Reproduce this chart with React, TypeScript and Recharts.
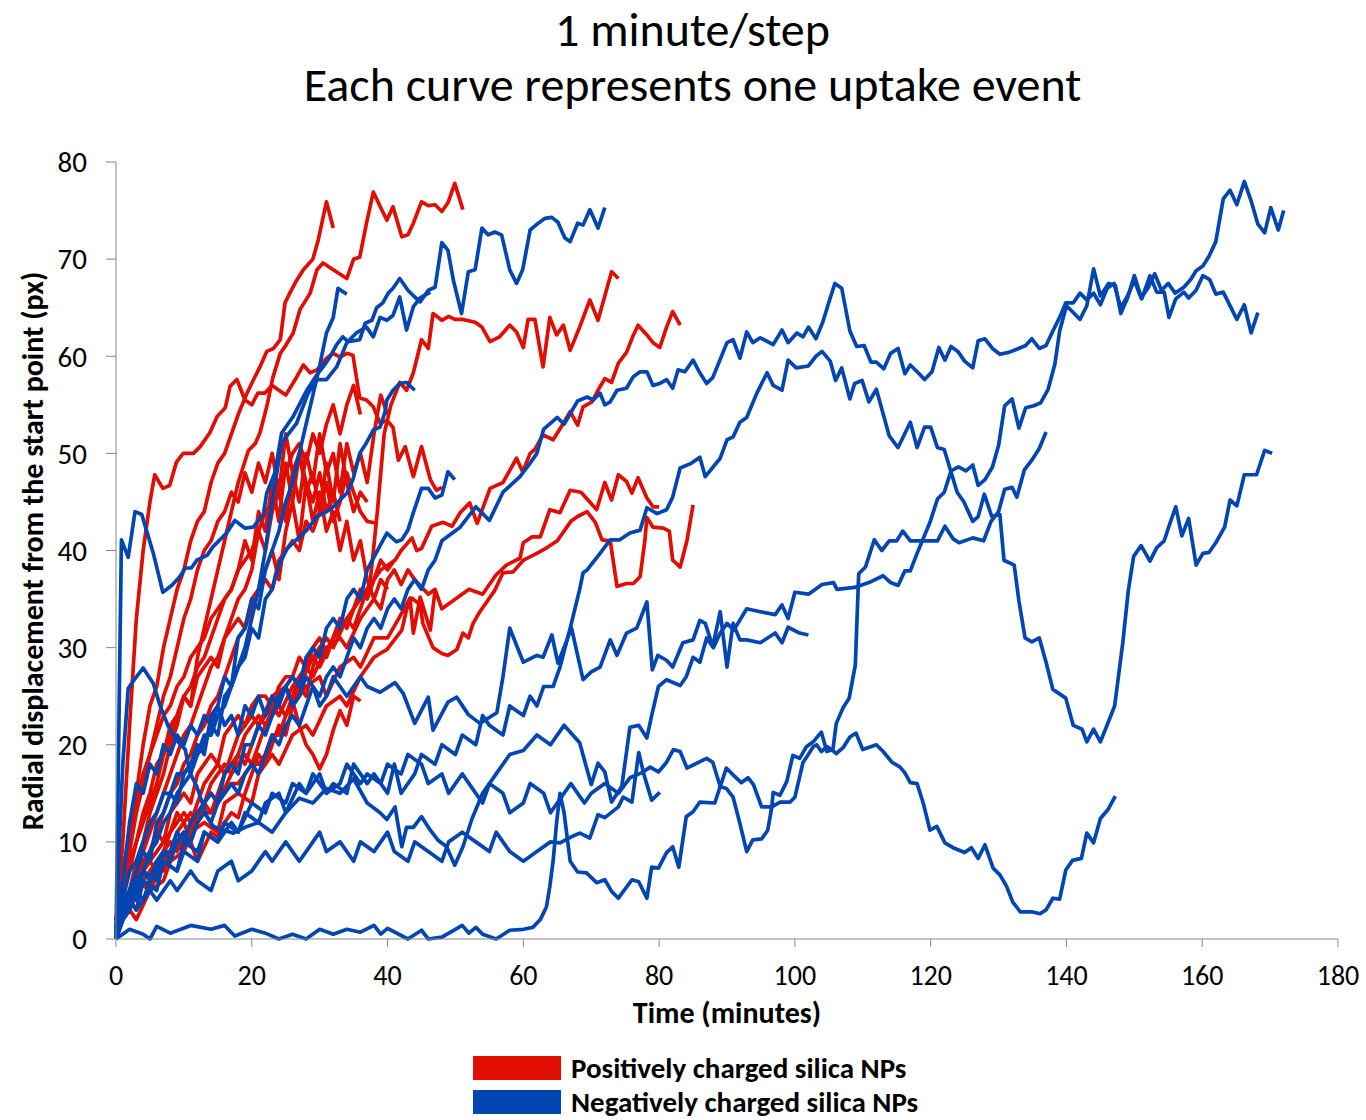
import React from 'react';
import { LineChart, Line, XAxis, YAxis } from 'recharts';

// ---------- tick labels ----------
const X_TICKS = [0, 20, 40, 60, 80, 100, 120, 140, 160, 180];
const Y_TICKS = [0, 10, 20, 30, 40, 50, 60, 70, 80];

const RED = '#E00E00';
const BLUE = '#0046B2';

// ---------- positively charged (red) curves: [time (min), displacement (px)] ----------
const R1 = [[0,2],[1,5],[2,11],[3,15],[4,20],[5,24],[6,26],[7,30],[8,33],[9,36],[10,38],[11,41],[12,43],[13,44],[14,47],[15,49],[16,50],[17,52],[18,54],[19.3,56.2],[20.2,57.5],[21.2,58.9],[22.2,60.5],[23.2,60.8],[24.2,61.7],[24.9,65.5],[25.6,66.5],[26.6,67.8],[27.6,68.9],[29,70],[29.8,72],[31,75.9],[32,73.2]];
const R2 = [[0,1],[1,4],[2,5],[3,8],[4,10],[5,13],[6,15],[7,17],[8,20],[9,22],[10,25],[11,24],[12,29],[13,32],[14,35],[15,38],[16,41],[17,44],[18,47],[19.5,50.3],[20.5,51],[21.2,52.1],[22.2,54.8],[23.1,57.8],[24.2,60.3],[24.9,61],[26.1,62.4],[27.1,64.8],[28.6,66.5],[29.6,68.9],[30.5,69.6],[32,68.9],[34,68],[35,70],[35.9,70.2],[36.9,73.7],[37.9,76.9],[39.2,75],[39.9,74],[40.8,75.4],[42.1,72.3],[43,72.5],[43.8,73.7],[45,75.9],[46,75.5],[47,75.6],[48,74.9],[48.9,75.8],[49.9,77.8],[51.1,75.1]];
const R3 = [[0,1],[2,3],[3,5],[5,6],[6,8],[8,9],[9,11],[11,13],[12,12],[14,16],[16,18],[17,17],[19,21],[21,23],[22,22],[24,25],[26,27],[27,26],[29,29],[31,31],[32,30],[34,33],[36,35],[37.4,36.5],[38.5,44],[39.5,52],[40.5,55],[41.8,57.3],[42.8,56.5],[43.8,58.3],[45,61.7],[46,60.8],[46.7,64.4],[48,63.7],[49,64.1],[49.9,63.8],[51,63.8],[52.9,63.5],[53.9,63],[55.1,61.5],[56.5,62],[58,63.2],[59,62.5],[60,60.9],[60.7,63.8],[61.7,63.8],[62.9,58.9],[63.9,64],[64.9,62.2],[65.9,63.2],[66.9,60.6],[68.3,63],[69.8,65.8],[71,63.7],[73,68.7],[74,68]];
const R4 = [[0,1],[2,3],[4,6],[5,5],[7,8],[9,10],[10,9],[12,13],[14,15],[15,14],[17,17],[19,19],[20,18],[22,22],[24,24],[25,23],[27,27],[29,29],[30,28],[32,31],[34,33],[35,32],[37,36],[38,37],[39,38],[41.1,39],[42,40],[43.6,41.3],[44.3,40],[45,40.2],[46.5,42.5],[48.2,42.9],[49.5,42.5],[50.7,43.9],[52.1,44.9],[53.2,42.8],[55.1,46.4],[57,47],[59,49.5],[59.9,48.1],[61,50],[61.7,50.4],[62.9,51.9],[64.4,51.4],[65.9,53.1],[66.9,54.3],[68,52.9],[68.8,54.8],[70.1,55.3],[71,56.5],[72,57.7],[73,57.3],[74,59.3],[75.2,60.4],[76.1,62],[76.9,63.2],[78.2,62.2],[79.1,61.4],[80.1,60.9],[81.1,63],[82,64.6],[83.1,63.2]];
const R5 = [[0,1],[2,3],[3,2],[5,5],[7,6],[8,8],[10,9],[11,11],[13,12],[15,11],[16,14],[18,15],[20,14],[21,17],[23,19],[24,18],[26,21],[28,22],[29,21],[31,24],[33,25],[34,24],[36,27],[38,29],[38.9,29.4],[39.9,29.8],[42.1,31.8],[42.8,33.9],[43.6,35.1],[44.8,34.4],[45.2,32.5],[46.7,30],[48,29.4],[48.9,29.2],[50.2,29.8],[51.1,31.5],[51.9,31],[52.6,32.5],[53.6,33.7],[55.8,35.9],[57,37.7],[58.5,37.8],[60,39],[62,39.7],[63.5,40.3],[65,41],[66,42],[67,43],[68,43.5],[69.4,44],[70.6,42.9],[71.6,41.1],[72.8,41],[73.8,36.3],[75.2,36.6],[76.2,36.6],[77.2,37.3],[77.9,41],[78.2,43.4],[79.1,42.4],[80.6,42.3],[81.5,42],[82,39],[83.1,38.3],[84.1,41],[85,44.7]];
const R6 = [[0,2],[2,4],[3,6],[5,5],[6,8],[8,10],[9,9],[11,12],[13,14],[14,13],[16,17],[18,19],[19,18],[21,22],[23,24],[24,23],[26,26],[28,28],[29,27],[31,30],[33,31],[34,30],[36,33],[38,35],[39,34],[40,37],[41,38],[42,36.5],[43,38],[44,37],[46,35.5],[47,36],[48,34],[50,35],[52,36],[54,35.5],[56,37.5],[57.5,38.5],[59.5,39.2],[60,40.8],[61.3,41.4],[62.5,41.4],[63.9,44.2],[65.4,43.9],[66.9,46.2],[68.5,46],[70.8,44.2],[72,47],[73,45.2],[74,47.8],[75.2,47.1],[76,45.9],[76.9,47.5],[78.2,45.4],[79.1,44.5],[80,44.5]];
const R7 = [[0,1],[1,10],[2,22],[3,33],[4,40],[5,45],[5.7,47.8],[6.9,46.4],[7.9,46.7],[8.9,49.1],[9.9,50],[11.4,50],[12.4,50.7],[13.8,52.1],[14.9,53.8],[16.1,54.7],[16.8,56.9],[17.8,57.6],[19,55.5],[20,55],[20.9,56.2],[21.9,56.2],[23,57],[24,56.5],[25,56],[26.4,57.6],[27.6,59.1],[28.6,58.3],[29.6,58.6],[31,59.8],[32,60.3],[33,59.9],[34,60.3],[34.9,60.1],[35.9,55.7],[36.9,55.5],[37.9,54.8],[38.9,53.1],[39.9,53.4],[40.8,52.7],[41.6,49.3],[42.6,50.7],[43.8,47.6],[45,50.7],[46.3,47.3],[47.2,46.2],[48,46.5]];
const R8 = [[0,1],[2,4],[3,6],[5,8],[6,7],[8,11],[10,13],[11,12],[13,16],[15,18],[16,17],[18,21],[20,23],[21,22],[23,25],[25,26],[26,24],[28,26],[30,27],[31,25],[33,28],[35,29],[36,28],[38,31],[40,31],[41.8,33.2],[43.3,35.1],[43.8,31.5],[44.8,35.2],[46.3,31.8],[47,35.9]];
const R9 = [[0,2],[1,5],[2,8],[3,10],[4,13],[5,15],[6,18],[7,19],[8,22],[9,23],[10,25],[11,24],[12,27],[13,28],[14,29],[15,28],[16,31],[17,32],[18,33],[19,32],[20,35],[21,36],[22,37],[23,36],[24,39],[25,40],[26,41],[27,40],[28,43],[29,42],[30,44],[31,47],[32,43],[33,45],[34,48],[35,46],[36,44],[37,43],[38.4,42.8]];
const R10 = [[0,1],[1,3],[2,5],[3,6],[4,8],[5,9],[6,11],[7,10],[8,13],[9,14],[10,15],[11,14],[12,17],[13,18],[14,19],[15,18],[16,21],[17,22],[18,23],[19,22],[20,24],[21,25],[22,25],[23,24],[24,26],[25,27],[26,27],[27,29],[28,28],[29,30],[30,31],[31,29.5],[32,31],[32.8,32.3]];
const R11 = [[0,1],[1,2],[2,4],[3,5],[4,6],[5,7],[6,8],[7,7],[8,9],[9,10],[10,11],[11,10],[12,12],[13,13],[14,13],[15,14],[16,15],[17,16],[18,16],[19,17],[20,18],[21,18],[22,19],[23,21],[24,21],[25,23],[26,24.5],[27,22],[28,20],[29,19],[30,17.5],[31,19],[32,21.5],[33,23.5],[34,22],[35,25],[36,24.5]];
const R12 = [[0,1],[2,5],[3,7],[4,9],[5,11],[6,13],[7,15],[8,17],[9,19],[10,21],[11,22],[12,24],[13,26],[14,28],[15,29],[16,31],[17,33],[18,35],[19,36],[20,38],[21,42],[22,40],[23,44],[24,46],[25,43],[26,48],[27,45],[28,50],[29,47],[30,52],[31,48],[32,50],[33,46],[34,51],[35,48],[36,50],[37,47],[38,52],[39,56],[40,54]];
const R13 = [[0,2],[1,5],[2,7],[3,10],[4,12],[5,14],[6,16],[7,19],[8,21],[9,23],[10,25],[11,26],[12,28],[13,29],[14,31],[15,33],[16,35],[17,36],[18,38],[19,41],[20,39],[21,44],[22,42],[23,47],[24,43],[25,49],[26,45],[27,50],[28,46],[29,48],[30,44],[31,49],[32,45],[33,51],[34,47],[35,44],[36,46],[37,45]];
const R14 = [[0,1],[1,3],[2,4],[3,6],[4,8],[5,9],[6,11],[7,13],[8,15],[9,16],[10,18],[11,19],[12,21],[13,22],[14,24],[15,25],[16,27],[17,29],[18,31],[19,32],[20,34],[21,36],[22,38],[23,40],[24,37],[25,42],[26,45],[27,41],[28,47],[29,43],[30,46],[31,42],[32,44],[33,40],[34,43],[35,39],[36,41],[37,37],[38,35],[39,37],[40,36]];
const R15 = [[0,1],[1,5],[2,9],[3,13],[4,16],[5,19],[6,22],[7,25],[8,27],[9,30],[10,33],[11,35],[12,38],[13,40],[14,41],[15,43],[16,44],[17,46],[18,45],[19,48],[20,46],[21,49],[22,47],[23,50],[24,46],[25,52],[26,48],[27,50],[28,47],[29,45],[30,48],[31,44],[32,46],[33,43]];
const R16 = [[0,1],[1,2],[2,4],[3,5],[4,7],[5,8],[6,9],[7,10],[8,11],[9,13],[10,12],[11,10],[12,8],[13,9.5],[14,11],[15,10.5],[16,12],[17,13],[18,12.5],[19,15],[20,17],[21,19],[22,18],[23,20],[24,22],[25,21],[26,24],[27,26],[28,25],[29,28],[30,30],[31,29],[32,31],[33,33],[34,32],[35,34],[36,36],[37,35],[38,37],[39,39],[40,38],[41,39]];
const R17 = [[0,2],[1,7],[2,11],[3,14],[4,17],[5,19],[6,21],[7,23],[8,24],[9,26],[10,27],[11,29],[12,30],[13,31],[14,33],[15,34],[16,35],[17,36],[18,38],[19,39],[20,40],[21,42],[22,44],[23,45],[24,47],[25,48],[26,50],[27,51],[28,49],[29,52],[30,50],[31,53],[32,55],[33,52],[34,55],[35,57],[36,54]];

// ---------- negatively charged (blue) curves ----------
const B1 = [[0,0],[1,2],[2,4],[3,5],[4,7],[5,6],[6,8],[7,9],[8,8],[9,10],[10,11],[11,10],[12,12],[13,13],[14,12],[15,14],[16,15],[17,16],[18,15],[19,17],[20,18],[21,17],[22,19],[23,21],[24,20],[25,22],[26,23],[27,22],[28,24],[29,26],[30,25],[31,27],[32,28],[33,27],[34,29],[35,31],[36,30],[37,32],[38,33],[39,32],[40,34],[41,35],[42,34],[43,36],[44,37],[45,36],[46,38],[47,39],[48,41],[50.7,42.4],[53,44.5],[55,43.1],[57,46],[59.5,47.6],[61,49],[62,50],[63,52.5],[65,53.7],[66,53],[68,55.4],[69.4,55.8],[70.3,55.5],[71.3,56.2],[72,55],[72.8,55.3],[73.8,56.5],[75.2,56.7],[76.2,57.9],[77.2,58.4],[78.2,58.4],[79.1,57],[80.1,57.2],[81.1,57.6],[82,56.7],[82.8,58.6],[83.8,58.4],[85,59.6],[86,58.3],[87,57.2],[87.9,57.8],[90,61.4],[90.9,61.7],[91.9,59.8],[92.9,62.5],[93.8,61.4],[94.9,61.9],[96.8,61.2],[98.1,62.7],[99,61.4],[100.3,62.4],[101.2,62],[102,63],[103.1,61.8],[104.1,63.5],[105.2,66],[105.9,67.5],[106.9,67],[108.1,62.6],[109.1,61],[110.2,61.1],[111.2,59.4],[112,59.4],[113.1,58.7],[114.1,60.3],[115.2,60.8],[116.2,58.2],[117,59.1],[118.3,58.2],[119.1,57.6],[120.2,58.4],[121.2,60.9],[122.1,59.6],[123,61],[124,60.5],[125,59.5],[126.2,58.8],[127,61.6],[128,61.8],[129.1,60.8],[130.2,60.2],[131.5,60.4],[132.6,60.7],[134,61.1],[134.9,61.8],[136,60.8],[137,61.1],[138,62.6],[139,64],[139.9,65.5],[141,65.5],[142,66.5],[143,65.8],[144,66.5],[145,65.3],[146,67],[147,67.5],[148,65],[149,66.2],[150,67.8],[151,66],[152,67],[153,68.5],[154,66.8],[155,67.5],[156,66.5],[157.3,67.1],[158.3,67.9],[159.1,68.8],[160.1,69.3],[161,70.3],[162,71.8],[163.1,76.2],[164.1,77.1],[165.1,75.6],[166.2,78],[167.2,76],[168.2,73.6],[169.2,72.7],[170.1,75.3],[171.2,73],[172,75]];
const B2 = [[0,0],[1,3],[2,5],[3,4],[4,7],[6,6],[7,8],[9,7],[10,10],[12,9],[13,11],[15,10],[17,12],[18,11],[20,14],[22,13],[23,15],[25,14],[26,16],[28,15],[29,17],[31,15],[32,16],[34,15],[35,18],[37,16],[38,17],[40,15],[41,18],[42,15],[44,17],[45,19],[47,18],[48,20],[50,19],[51,21],[53,20],[54,23],[55,22],[57,21],[58,24],[60,23],[61,25],[62,24],[63,26],[64.4,26],[65.4,28],[66.9,32],[68.3,36],[68.8,37.7],[69.4,38],[71.3,39.7],[72.8,41.1],[74.2,41.1],[75.7,41.8],[77.2,42.1],[78.2,44.4],[79.7,43.8],[81.1,44.2],[82,45.5],[83.1,48.5],[84.8,49],[86,49.6],[86.8,47.6],[89,49.5],[90,51.4],[90.9,51.7],[91.9,53.2],[92.9,53.7],[94.4,56.2],[95.9,58.3],[96.8,57],[98.1,56.5],[99,59.6],[100.2,58.8],[102,59],[103.1,60],[104,60.5],[105.2,59.5],[106,57.5],[106.9,58.8],[108.1,55.6],[108.8,57.2],[109.9,57.5],[110.9,55.3],[112,56.6],[113.9,51.8],[115.2,50.6],[117,53.2],[118,50.6],[119.1,52.7],[120,52.7],[121,50.6],[122,50.4],[123.9,46],[124.9,45],[126.2,43],[127,43.5],[127.9,45.8],[129,43.5],[130.2,43.7],[130.8,39],[132.3,38.5],[133,34.8],[133.9,31],[134.9,30.6],[136,31],[137,28.5],[138,25.7],[139.9,24.8],[141,22],[142.3,21.6],[143,20.3],[144,21.6],[145,20.3],[146.2,22.4],[147.1,24],[148.3,30.5],[149.1,35.8],[149.9,39.4],[151,40.5],[152.3,38.9],[153.3,40.3],[154.4,41],[155.1,42.5],[156.1,44.5],[157,41.5],[158,43.3],[159.1,38.5],[160.1,39.7],[161,39.8],[162,40.8],[163.3,42.4],[164.1,45.2],[165.1,44.6],[166.2,47.8],[168,47.8],[169.2,50.3],[170.3,50]];
const B3 = [[0,0],[1,2],[2,4],[3,3],[4,6],[6,5],[7,8],[9,7],[10,9],[12,8],[13,11],[15,10],[16,12],[18,11],[19,13],[21,12],[22,14],[24,15],[25,13],[27,16],[28,15],[30,17],[31,15],[33,16],[34,18],[36,16],[37,17],[39,16],[40,18],[42,17],[43,19],[45,18],[46,16],[48,17],[49,15],[51,17],[52,16],[54,14],[55,16],[57,15],[58,13],[60,14],[61,16],[63,15],[64,13],[66,15],[67,16],[69,14],[70,15],[72,16],[74,15],[75.7,16.6],[77.4,17.1],[78.7,17.7],[79.9,17.2],[81.1,18.2],[82.1,19.5],[83.1,19.3],[84.1,17.6],[87,18.6],[87.9,18.2],[89,15.7],[89.9,15.5],[90.9,14.6],[91.9,11.9],[92.9,9],[93.8,10.2],[95.1,10.3],[96,11.2],[96.6,13.6],[96.8,15.1],[97.8,14.8],[98.8,16.2],[99.7,18.9],[100.7,18.6],[101.7,19.8],[102.7,20.3],[103.9,21.3],[104.7,19.3],[105.6,19.5],[106.1,22.2],[107.1,23.8],[108,24.8],[108.5,26.7],[108.9,28.2],[109.4,37.6],[110.4,38.3],[110.9,39.4],[111.7,41.1],[112.8,40],[113.9,41],[115,41],[115.9,42],[117,41],[118.9,41],[121,41],[122.1,42.5],[123.3,41.2],[124.2,40.8],[126.2,41.3],[127.8,41],[128.9,43],[130,44],[130.9,46.3],[132,46.5],[132.7,45.5],[133.8,48.3],[134.9,49.3],[136,50.5],[137,52.2]];
const B4 = [[0,0],[0.5,10],[1,18],[1.8,25.8],[3,27],[4,27.9],[5.5,26.3],[6.5,24],[7.7,21.9],[8.9,20.5],[10.2,19.5],[10.9,17.1],[11.9,15.7],[13.4,12.6],[14.3,11.6],[15.8,11.2],[17.3,10.9],[19,11.5],[21,12],[23,11],[25,13],[27,14.5],[29,14],[31,15.5],[33,15],[35,16.5],[37,14],[38.9,13],[39.9,12.3],[41.1,13.6],[42.1,9.5],[42.8,11.5],[43.8,11.5],[45,12.6],[46.3,11.2],[47.4,10.2],[48.7,9.5],[49.9,7.6],[51.1,9.5],[52.4,12.3],[54,15],[56,17],[58,19],[60,19.4],[62,21],[64,20],[66,22],[68.3,20.2],[70,15.9],[71,18.1],[72,17.2],[73,14.1],[74.5,15.7],[75.7,21.8],[77,22],[78.2,20.7],[78.9,23],[79.9,26],[81.1,26.7],[83.1,26.1],[84,27],[85,29],[86,28.5],[87,31],[88,30],[89,31.5],[90,32.5],[91,31.8],[92.9,34],[94.9,33.7],[97.1,33.4],[98.1,34.4],[99,33],[100,35.7],[102,35.5],[104,36.5],[105.7,36.7],[106.2,36],[108.8,36.2],[110.9,36.7],[113,37.4],[114.1,36.7],[115.2,36.4],[116.2,37.9],[117,37.9],[118,39.7],[119.9,42.9],[121,45.3],[122,46],[123,48.2],[124.1,48.6],[125.2,48.2],[126.2,48.8],[127,46.7],[128,47.3],[129.1,48.6],[130,50.8],[130.9,54.9],[132,55.6],[133,52.6],[134,54.7],[135.2,54.9],[136.2,55.2],[137.3,56.6],[138.3,59.2],[139,62.6],[140,65.2],[141,64.5],[142,63.8],[143,65.2],[144,69],[145,66.2],[146.2,67.5],[147.2,67.3],[148,64.4],[149,66],[150,68.3],[151.1,65.9],[152.3,68.3],[153.3,66.6],[154.4,66.6],[155.1,64],[156.1,65.9],[157.3,66.6],[158,66],[159.1,66.8],[160.1,68.3],[161.1,67.9],[162,66.4],[163.1,66.6],[165.1,63.8],[166.2,65.3],[167.2,62.4],[168.2,64.5]];
const B5 = [[0,0],[2,1],[4,0.5],[5,0],[6,1.3],[8,0.6],[11,1.4],[14,1],[16,1.4],[17.5,0.3],[20,1],[22,0.6],[24,0],[26,0.5],[28,0],[30,1],[32,0.5],[34,1],[36,0.7],[38,1.4],[39,0.5],[40,1.1],[43,0],[45,0.9],[46,0],[48,0.2],[50,1],[51,1.4],[52,0.6],[53,1.2],[54,0.5],[56,0],[58,0.9],[60,1],[61.4,1.2],[62.5,2],[63.4,3.3],[63.9,5.4],[64.4,8.1],[64.9,12],[65.4,15],[66,13],[66.9,8],[68,6.9],[69.3,6.8],[70.8,5.8],[72,6.1],[73,4.9],[74,4.2],[76,6.1],[77,5.9],[78.2,4.2],[78.9,7.4],[79.9,7.3],[81.1,8.9],[82,9.5],[82.9,7.4],[84,12.6],[85,13.1],[86,14.1],[88.2,14],[89,15.7],[89.9,17.6],[90.9,16.9],[92.1,16.1],[93.1,16.6],[93.9,15.9],[95.1,13.6],[96.6,13.6],[97.8,14.1],[99.3,14.1],[100,14.6],[100.7,16.7],[101.2,18.2],[101.7,18.7],[102.7,19.8],[103.2,20],[103.9,19.3],[104.7,19.8],[105.4,19.5],[106.1,19.1],[107.1,19.7],[108.1,20.8],[109,21.2],[110,19.5],[112,20],[113,19.3],[114.3,18.2],[115.5,17.7],[116.2,17.1],[117,16.1],[118,16],[118.9,14],[119.9,11.2],[120.9,11.6],[122.1,9.9],[123.3,9.4],[125,8.9],[126,9.4],[127,8.3],[128,9.7],[129.2,7.3],[130.2,6.6],[131.2,5.4],[132.1,3.8],[133.2,2.8],[134.9,2.8],[136.1,2.6],[137,3],[138,4.2],[139,4.1],[139.9,7.1],[140.9,8.1],[142.2,8.3],[143,10.9],[144,9.9],[145,12.4],[146.1,13.3],[147.2,14.7]];
const B6 = [[0,0],[1,2],[2,4],[3,3],[5,5],[6,4],[8,6],[9,5],[11,7],[12,6],[14,5],[15,7],[17,8],[18,6],[20,7],[22,9],[23,8],[25,10],[27,8],[28,9],[30,11],[31,9],[33,10],[35,8],[36,10],[38,9],[40,11],[41,9],[43,8],[44,10],[46,9],[48,8],[49,10],[51,11],[53,10],[55,9],[56,11],[58,9],[60,8],[62,9],[64,10],[65.4,9.9],[67,10.5],[68.3,10.9],[69.8,10.4],[71,12.8],[72,12.5],[74,13.6],[74.7,14.6],[76,14.1],[77,19.2],[77.7,17.1],[78.9,14.3],[80.1,15.1]];
const B7 = [[0,0],[1,6],[2,12],[3,16],[4,15],[5,18],[6,17],[7,20],[8,19],[9,21],[10,20],[11,22],[12,21],[13,23],[14,22],[15,24],[16,22],[17,23],[18,21],[19,24],[20,23],[21,25],[22,23],[23,25],[24,24],[25,26],[26,24],[27,25],[28,27],[29,26],[30,24],[31,25],[32,27],[33,26],[34,25],[35,26],[36,27],[37,26],[38.9,25.4],[41.1,26.4],[42.3,25.3],[44,22.2],[46,24.9],[46.7,21.5],[48.9,24.4],[50.2,24.9],[51.9,23.1],[53.6,22.2],[56.1,23.3],[57,27],[58,32],[60,28.5],[62,29.2],[62.9,29],[64.2,31.3],[65.1,28.4],[67.1,32],[68.8,26.7],[70,27.5],[71.3,28],[72.8,30.8],[73.8,29.2],[75.2,31.5],[76.7,32],[78.2,34.7],[79,27.7],[79.8,29.2],[81.1,28.7],[82,28],[83.5,30.5],[85,30.8],[86,32.8],[86.8,32.5],[87.9,30.1],[89,33.7],[90,28],[90.9,32.5],[91.9,30.8],[92.9,30.8],[94.9,30.5],[97.1,31.5],[98.1,30.5],[99,32.1],[100.7,31.5],[102,31.3]];
const B8 = [[0,0],[0.8,41.1],[1.8,39.3],[2.8,44],[3.8,43.7],[5.5,39.7],[6.9,35.7],[8.2,36.4],[9.4,37.3],[10.2,38.2],[11.1,38.2],[11.9,39],[13.4,39.5],[14.3,40.4],[16.3,41.8],[17.5,43.1],[19,42.3],[20.2,42.4],[21.7,43.7],[22.2,45.9],[23.4,48],[24.4,52.1],[26.1,53.8],[28.1,56.5],[29.6,58.1],[30.5,58.9],[31.5,59.9],[32.5,61.2],[33.4,62],[34.2,61.5],[35.9,61.7],[36.7,63.4],[37.7,63.7],[38.4,65],[39.3,65.5],[40.1,66.5],[40.8,67],[41.8,68],[43,66.8],[44,66.1],[44.8,65.6],[46,66.8],[47,67.1],[48,71.7],[48.9,70.9],[49.7,67.8],[50.9,64.4],[51.9,68.7],[52.9,68.9],[53.9,73.2],[54.8,72.5],[55.8,72.8],[56.8,72.5],[58,68.9],[59,67.5],[59.9,68.9],[61,73],[62.2,73.7],[63.2,74.2],[64.2,74.3],[65.1,73.8],[66.1,72.2],[66.9,71.8],[68,73.7],[68.8,73.5],[69.8,75.1],[71,73.2],[72,75.3]];
const B9 = [[0,0],[1,3],[2,5],[3,7],[4,9],[5,8],[6,12],[7,13],[8,15],[9,14],[10,17],[11,18],[12,20],[13,19],[14,23],[15,24],[16,27],[17,26],[18,31],[19,32],[20,35],[21,34],[22,38],[23,40],[24,42],[25,45],[26,47],[27,50],[28,53],[29,56],[30,59],[31,62.4],[32,64],[32.7,67],[33.3,66.7],[34,66.4]];
const B10 = [[0,0],[1,3],[2,4],[3,6],[4,7],[5,9],[6,10],[7,12],[8,13],[9,15],[10,16],[11,17],[12,19],[13,20],[14,22],[15,21],[16,25],[17,26],[18,28],[19,29],[20,32],[21,31],[22,35],[23,36],[24,38.5],[25.2,40.2],[26.1,40.8],[28.1,42.1],[29.6,43.5],[31,44],[32,44.5],[33,45.2],[34,45.9],[34.9,47.3],[35.9,50],[36.9,51.1],[37.9,52.4],[38.9,52.7],[39.6,54.2],[39.9,55.5],[40.8,56.5],[41.8,57.2],[42.8,57.3],[44,56.5]];
const B11 = [[0,0],[1,2],[2,3],[3,5],[4,4],[5,6],[6,7],[7,9],[8,9],[9,11],[10,10],[11,12],[12,13],[13,14],[14,15],[15,14],[16,17],[17,18],[18,17],[19,20],[20,20],[21,22],[22,21],[23,23],[24,25],[25,26],[26,27],[27,26],[28,29],[29,30],[30,29],[31,32],[32,33],[33,32],[34,35],[35,36],[36,35],[37,38],[38.9,40.5],[39.9,41.8],[41.3,40.9],[42.1,41.1],[43,42.1],[43.8,43.9],[45,46.4],[46,46.4],[47,45.4],[48,45.7],[48.9,48.1],[49.9,47.3]];
const B12 = [[0,0],[1,4],[2,7],[3,8],[4,10],[5,12],[6,13],[7,15],[8,15],[9,17],[10,17],[11,18],[12,19],[13,21],[14,21],[15,23],[16,24],[17,26],[18,28],[19,30],[20,33],[21,36],[22,40],[23,45],[24.4,51.1],[26.6,53.1],[28.3,56.2],[29.6,57.6],[31,57.6],[32.5,58.9],[34,61.4],[35.4,62.4],[36.9,63],[37.9,62],[38.9,64],[39.9,63.7],[40.8,64.2],[41.8,66.1],[42.8,62.7],[43.8,65.1],[44.8,66],[46.3,66.6]];

const RED_SERIES = [R1, R2, R3, R4, R5, R6, R7, R8, R9, R10, R11, R12, R13, R14, R15, R16, R17];
const BLUE_SERIES = [B1, B2, B3, B4, B5, B6, B7, B8, B9, B10, B11, B12];

const TITLE_LINES = ['1 minute/step', 'Each curve represents one uptake event'];

const LEGEND_ITEMS = [
  { label: 'Positively charged silica NPs', color: RED },
  { label: 'Negatively charged silica NPs', color: BLUE },
];

const toPoints = (arr: number[][]) => arr.map(([t, v]) => ({ t, v }));

const FONT = 'Carlito, Lato, "Open Sans", sans-serif';

export default function App() {
  return (
    <div style={{ position: 'absolute', left: 0, top: 0, width: 1366, height: 1120, background: '#fff', overflow: 'hidden' }}>
      {TITLE_LINES.map((line, i) => (
        <div key={i} style={{ position: 'absolute', left: 0, width: 1385, top: i === 0 ? 0 : 55, textAlign: 'center', fontFamily: FONT, fontSize: 48, lineHeight: '60px', color: '#000' }}>
          {line}
        </div>
      ))}
      <LineChart width={1366} height={1120} margin={{ top: 162, right: 28, bottom: 121, left: 50 }}>
        <XAxis
          type="number"
          dataKey="t"
          domain={[0, 180]}
          ticks={X_TICKS}
          allowDuplicatedCategory={false}
          stroke="#868686"
          tickSize={8}
          tickMargin={18}
          height={60}
          tick={{ fill: '#000', fontSize: 28, fontFamily: FONT }}
          label={() => (
            <text x={727} y={1023} textAnchor="middle" fontFamily={FONT} fontWeight={700} fontSize={30} fill="#000">Time (minutes)</text>
          )}
        />
        <YAxis
          type="number"
          dataKey="v"
          domain={[0, 80]}
          ticks={Y_TICKS}
          stroke="#868686"
          tickSize={10}
          tickMargin={19}
          width={66}
          tick={{ fill: '#000', fontSize: 29, fontFamily: FONT }}
          label={() => (
            <text x={43} y={551} transform="rotate(-90 43 551)" textAnchor="middle" fontFamily={FONT} fontWeight={700} fontSize={30} fill="#000">Radial displacement from the start point (px)</text>
          )}
        />
        {RED_SERIES.map((s, i) => (
          <Line key={'r' + i} data={toPoints(s)} dataKey="v" type="linear" dot={false} activeDot={false} stroke={RED} strokeWidth={3.7} strokeLinejoin="round" isAnimationActive={false} />
        ))}
        {BLUE_SERIES.map((s, i) => (
          <Line key={'b' + i} data={toPoints(s)} dataKey="v" type="linear" dot={false} activeDot={false} stroke={BLUE} strokeWidth={3.7} strokeLinejoin="round" isAnimationActive={false} />
        ))}
      </LineChart>
      <div style={{ position: 'absolute', left: 473, top: 1056, fontFamily: FONT, fontWeight: 700, fontSize: 29, color: '#000' }}>
        {LEGEND_ITEMS.map((it, i) => (
          <div key={i} style={{ display: 'flex', alignItems: 'center', height: 24, marginBottom: 10, whiteSpace: 'nowrap' }}>
            <div style={{ width: 88, height: 24, background: it.color, marginRight: 10 }} />
            <span style={{ lineHeight: '24px' }}>{it.label}</span>
          </div>
        ))}
      </div>
    </div>
  );
}
